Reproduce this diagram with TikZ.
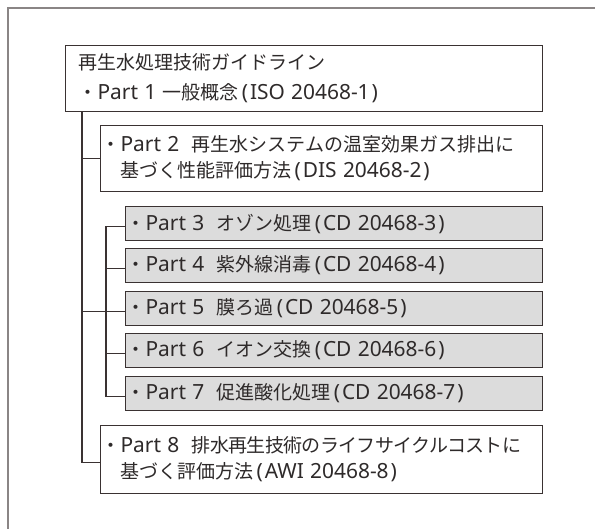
\documentclass[tikz,border=0pt]{standalone}
\usepackage{fontspec}
\setmainfont{Noto Sans CJK JP}
\newfontfamily\tightcjk{Noto Sans CJK JP}[LetterSpace=-3.5]
\newfontfamily\latf{Noto Sans}[Scale=1.1]
\newcommand\lt[1]{{\latf #1}}
\newcommand\lp{\kern3bp\lt{(}\kern2bp}
\newcommand\rp{\kern2bp\lt{)}}
\newcommand\pgap{\lt{ }\hspace{6bp}}
\definecolor{ink}{HTML}{3A3232}
\definecolor{txt}{HTML}{2E2A2A}
\definecolor{boxgray}{HTML}{DCDCDC}
\definecolor{framegray}{HTML}{8A8585}
\begin{document}
\begin{tikzpicture}[x=1bp,y=-1bp,
  every node/.style={text=txt,font=\fontsize{19bp}{26bp}\selectfont},
  wbox/.style={draw=ink,line width=1.2bp,fill=white,align=left,anchor=north west,inner xsep=1bp,inner ysep=0pt},
  gbox/.style={wbox,fill=boxgray},
  conn/.style={draw=ink,line width=1.2bp}]
\useasboundingbox (0,0) rectangle (595,529);
\fill[white] (0,0) rectangle (595,529);
\draw[framegray,line width=1.2bp] (8,529) -- (8,8) -- (595,8);
% boxes
\node[wbox,inner xsep=13bp,minimum width=477bp,minimum height=66bp,text width=451bp,
  font=\fontsize{19bp}{30bp}\selectfont] (b1) at (65,45)
  {再生水処理技術ガイドライン\\・\lt{Part 1} 一般概念\lp\lt{ISO 20468-1}\rp};
\node[wbox,minimum width=442bp,minimum height=66bp,text width=440bp] (b2) at (100,125)
  {・\lt{Part 2}\pgap 再生水システムの温室効果ガス排出に\\\hspace{1em}基づく性能評価方法\lp\lt{DIS 20468-2}\rp};
\node[gbox,minimum width=417bp,minimum height=34bp,text width=415bp] (p3) at (125,206)
  {・\lt{Part 3}\pgap オゾン処理\lp\lt{CD 20468-3}\rp};
\node[gbox,minimum width=417bp,minimum height=34bp,text width=415bp] (p4) at (125,248)
  {・\lt{Part 4}\pgap 紫外線消毒\lp\lt{CD 20468-4}\rp};
\node[gbox,minimum width=417bp,minimum height=34bp,text width=415bp] (p5) at (125,291)
  {・\lt{Part 5}\pgap 膜ろ過\lp\lt{CD 20468-5}\rp};
\node[gbox,minimum width=417bp,minimum height=34bp,text width=415bp] (p6) at (125,333)
  {・\lt{Part 6}\pgap イオン交換\lp\lt{CD 20468-6}\rp};
\node[gbox,minimum width=417bp,minimum height=34bp,text width=415bp] (p7) at (125,376)
  {・\lt{Part 7}\pgap 促進酸化処理\lp\lt{CD 20468-7}\rp};
\node[wbox,minimum width=442bp,minimum height=68bp,text width=440bp] (b8) at (100,425)
  {・\lt{Part 8}\pgap {\tightcjk 排水再生技術のライフサイクルコストに}\\\hspace{1em}基づく評価方法\lp\lt{AWI 20468-8}\rp};
% connectors
\draw[conn] ([xshift=17bp]b1.south west) |- ([yshift=-3bp]b8.west);
\draw[conn] ([xshift=17bp]b1.south west) |- (b2.west);
\draw[conn] ([xshift=-43bp,yshift=-3bp]p5.west) -- ([yshift=-3bp]p5.west);
\draw[conn] ([yshift=-3bp]p3.west) -- ++(-19,0) |- ([yshift=-3bp]p7.west);
\draw[conn] ([yshift=-3bp]p4.west) -- ++(-19,0);
\draw[conn] ([yshift=-3bp]p6.west) -- ++(-19,0);
\end{tikzpicture}
\end{document}
